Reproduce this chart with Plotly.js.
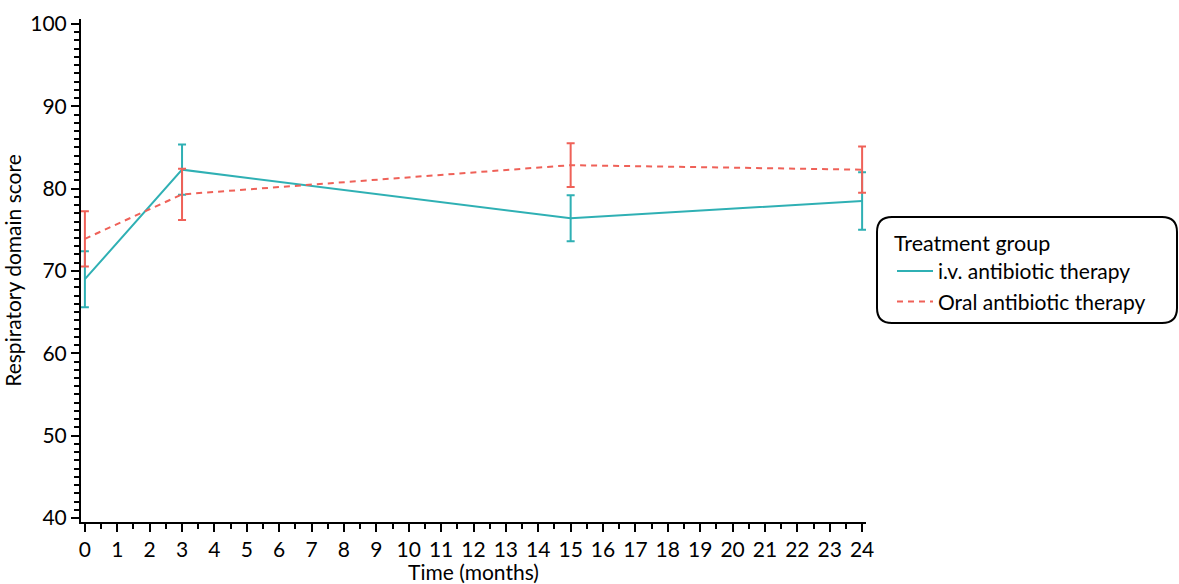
<!DOCTYPE html>
<html>
<head>
<meta charset="utf-8">
<script src="https://cdn.plot.ly/plotly-3.0.1.min.js"></script>
<style>
html,body{margin:0;padding:0;background:#fff;}
#chart{width:1179px;height:584px;}
</style>
</head>
<body>
<div id="chart"></div>
<script>
// Data
const months = [0, 3, 15, 24];
const ivMean = [69.0, 82.3, 76.4, 78.5];
const ivErr = [3.4, 3.05, 2.8, 3.5];
const oralMean = [73.9, 79.3, 82.85, 82.3];
const oralErr = [3.35, 3.1, 2.65, 2.8];
const xTicks = [0,1,2,3,4,5,6,7,8,9,10,11,12,13,14,15,16,17,18,19,20,21,22,23,24];
const yTicks = [40, 50, 60, 70, 80, 90, 100];
const seriesNames = ['i.v. antibiotic therapy', 'Oral antibiotic therapy'];
const legendTitle = 'Treatment group';
const xTitle = 'Time (months)';
const yTitle = 'Respiratory domain score';

const teal = '#2fb0b4';
const red = '#ef6158';
const FONT = 'Lato, "Open Sans", sans-serif';

const traces = [
  {
    x: months, y: ivMean, name: seriesNames[0], type: 'scatter', mode: 'lines',
    line: {color: teal, width: 2},
    error_y: {type: 'data', array: ivErr, visible: true, color: teal, thickness: 2, width: 4},
    cliponaxis: false
  },
  {
    x: months, y: oralMean, name: seriesNames[1], type: 'scatter', mode: 'lines',
    line: {color: red, width: 2, dash: '6px,5px'},
    error_y: {type: 'data', array: oralErr, visible: true, color: red, thickness: 2, width: 4},
    cliponaxis: false
  }
];

const L = 81, R = 866, T = 19, B = 522;
const W = R - L, H = B - T;
function px2x(p){ return (p - L) / W; }
function px2y(p){ return (B - p) / H; }
const bx0 = px2x(877), bx1 = px2x(1177), by0 = px2y(323), by1 = px2y(217);
const rx = 15 / W, ry = 15 / H;
const boxPath = `M ${bx0+rx},${by1} L ${bx1-rx},${by1} Q ${bx1},${by1} ${bx1},${by1-ry} ` +
  `L ${bx1},${by0+ry} Q ${bx1},${by0} ${bx1-rx},${by0} L ${bx0+rx},${by0} ` +
  `Q ${bx0},${by0} ${bx0},${by0+ry} L ${bx0},${by1-ry} Q ${bx0},${by1} ${bx0+rx},${by1} Z`;

const layout = {
  width: 1179, height: 584,
  margin: {l: L, r: 1179 - R, t: T, b: 584 - B},
  paper_bgcolor: '#ffffff', plot_bgcolor: '#ffffff',
  font: {family: FONT, color: '#000', size: 21},
  showlegend: true,
  legend: {
    x: px2x(892), xanchor: 'left', y: px2y(223), yanchor: 'top',
    bgcolor: 'rgba(0,0,0,0)', borderwidth: 0,
    itemwidth: 36,
    title: {text: legendTitle, font: {family: FONT, size: 21.5, color: '#000'}},
    font: {family: FONT, size: 21, color: '#000'},
    tracegroupgap: 0
  },
  xaxis: {
    range: [-0.12, 24.12],
    tickmode: 'array', tickvals: xTicks, ticktext: xTicks.map(String),
    ticks: 'outside', ticklen: 8, tickwidth: 2, tickcolor: '#000',
    showline: true, linecolor: '#000', linewidth: 2,
    showgrid: false, zeroline: false,
    tickfont: {family: FONT, size: 21, color: '#000'},
    minor: {dtick: 0.5, tick0: 0, ticks: 'outside', ticklen: 5, tickwidth: 2, tickcolor: '#000', showgrid: false},
    title: {text: xTitle, font: {family: FONT, size: 21, color: '#000'}, standoff: 9}
  },
  yaxis: {
    range: [39.51, 100.6],
    tickmode: 'array', tickvals: yTicks, ticktext: yTicks.map(String),
    ticks: 'outside', ticklen: 8, tickwidth: 2, tickcolor: '#000',
    showline: true, linecolor: '#000', linewidth: 2,
    showgrid: false, zeroline: false,
    tickfont: {family: FONT, size: 21, color: '#000'},
    minor: {dtick: 1, tick0: 40, ticks: 'outside', ticklen: 5, tickwidth: 2, tickcolor: '#000', showgrid: false},
    title: {text: yTitle, font: {family: FONT, size: 21, color: '#000'}, standoff: 6}
  },
  shapes: [{
    type: 'path', xref: 'paper', yref: 'paper', path: boxPath,
    line: {color: '#000', width: 2}, fillcolor: 'rgba(0,0,0,0)', layer: 'above'
  }]
};

Plotly.newPlot('chart', traces, layout, {displayModeBar: false, staticPlot: true});
</script>
</body>
</html>
